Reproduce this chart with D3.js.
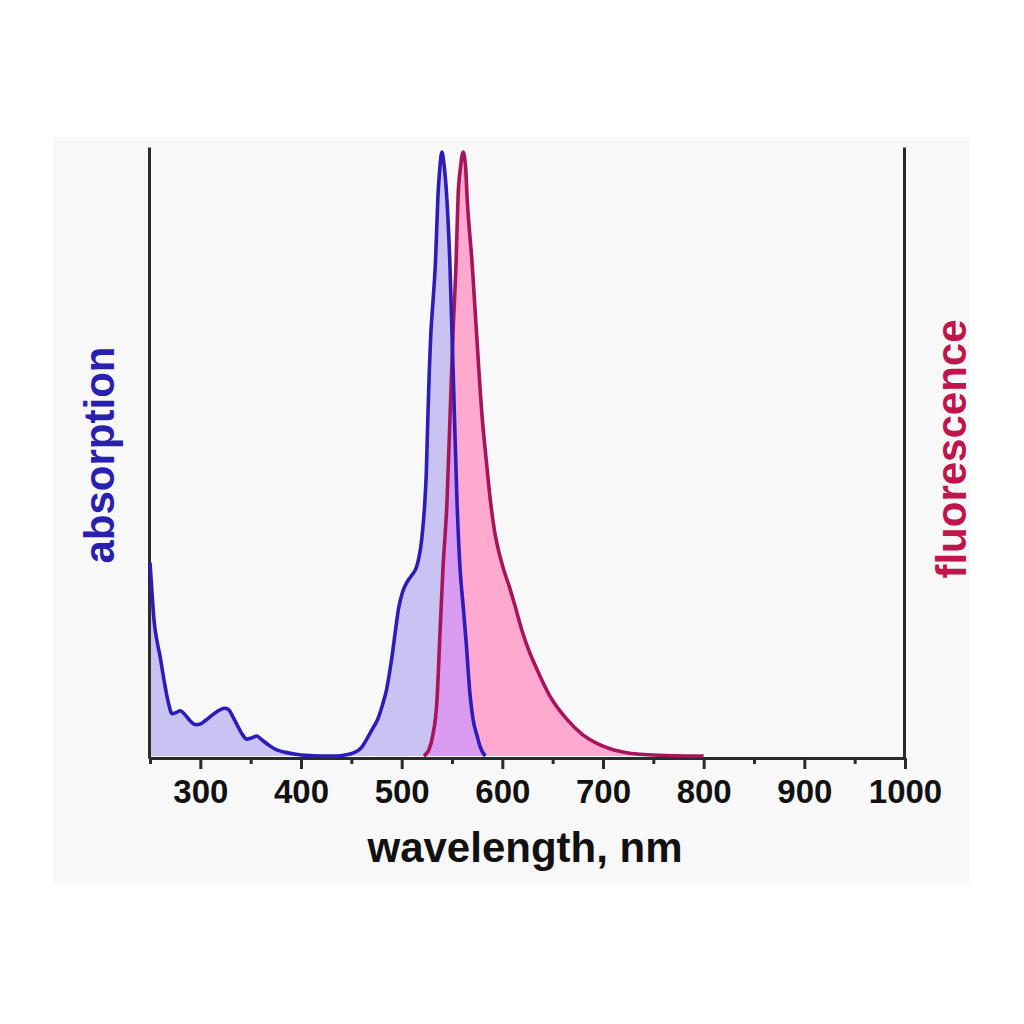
<!DOCTYPE html>
<html>
<head>
<meta charset="utf-8">
<script src="https://cdn.jsdelivr.net/npm/d3@7"></script>
<style>
  html, body { margin: 0; padding: 0; background: #ffffff; }
  svg { display: block; }
  text { font-family: "Liberation Sans", Arial, sans-serif; font-weight: bold; }
</style>
</head>
<body>
<svg id="chart" width="1024" height="1024"></svg>
<script>
// ---- data ----
const absWl  = [250, 252, 254, 257, 260, 264, 268, 272, 276, 280, 285, 290, 295, 300, 306, 312, 318, 324, 328, 332, 337, 342, 346, 351, 356, 361, 368, 376, 385, 395, 405, 420, 435, 445, 452, 460, 466, 471, 476, 481, 485, 490, 494, 497, 501, 505, 509, 515, 520, 523, 524.5, 526, 527.5, 529, 531, 533.5, 536, 538, 540, 542, 545, 548, 550, 552, 555, 558, 561, 564, 568, 571, 575, 578, 583];
const absVal = [0.32, 0.27, 0.225, 0.19, 0.165, 0.125, 0.09, 0.07, 0.072, 0.075, 0.068, 0.058, 0.052, 0.053, 0.06, 0.068, 0.075, 0.079, 0.077, 0.066, 0.05, 0.035, 0.028, 0.03, 0.033, 0.027, 0.018, 0.01, 0.006, 0.003, 0.001, 0, 0, 0.002, 0.005, 0.014, 0.03, 0.045, 0.06, 0.085, 0.11, 0.16, 0.21, 0.245, 0.272, 0.287, 0.297, 0.314, 0.36, 0.42, 0.47, 0.56, 0.64, 0.70, 0.75, 0.815, 0.925, 0.975, 1.0, 0.98, 0.92, 0.81, 0.70, 0.587, 0.42, 0.31, 0.25, 0.19, 0.1, 0.06, 0.033, 0.015, 0];

const fluWl  = [522, 524, 527, 531, 535, 538, 541, 545, 548, 551, 554, 556, 558.5, 561, 563.5, 565, 570, 574, 580, 584, 588, 592, 597, 602, 607, 612, 620, 627, 634, 647, 664, 680, 695, 707, 725, 745, 770, 800];
const fluVal = [0, 0.003, 0.01, 0.035, 0.09, 0.2, 0.31, 0.42, 0.56, 0.70, 0.815, 0.925, 0.975, 1.0, 0.975, 0.925, 0.815, 0.71, 0.56, 0.49, 0.425, 0.375, 0.335, 0.305, 0.28, 0.252, 0.205, 0.172, 0.145, 0.1, 0.061, 0.035, 0.02, 0.012, 0.005, 0.002, 0.0005, 0];

const xTicks = [300, 400, 500, 600, 700, 800, 900, 1000];
const xMinorTicks = [250, 350, 450, 550, 650, 750, 850, 950];
const xLabel = "wavelength, nm";
const yLeftLabel = "absorption";
const yRightLabel = "fluorescence";

// ---- build ----
const absData = absWl.map((w, i) => ({ w, v: absVal[i] }));
const fluData = fluWl.map((w, i) => ({ w, v: fluVal[i] }));

const svg = d3.select("#chart");

// panel background
svg.append("rect").attr("x", 53).attr("y", 137).attr("width", 917).attr("height", 747)
  .attr("fill", "#f8f8f8");

const x = d3.scaleLinear().domain([250, 1000]).range([150, 905]);
const y = d3.scaleLinear().domain([0, 1]).range([756, 152]);

const area = d3.area().x(d => x(d.w)).y0(y(0)).y1(d => y(d.v)).curve(d3.curveMonotoneX);
const line = d3.line().x(d => x(d.w)).y(d => y(d.v)).curve(d3.curveMonotoneX);

const defs = svg.append("defs");
defs.append("clipPath").attr("id", "fluClip")
  .append("path").attr("d", area(fluData));

svg.append("path").attr("d", area(absData)).attr("fill", "#c9c3f2");
svg.append("path").attr("d", area(fluData)).attr("fill", "#ffa9d1");
svg.append("path").attr("d", area(absData)).attr("fill", "#d99bf0").attr("clip-path", "url(#fluClip)");

// axes
const axisColor = "#2b2b2b";
const yAxisScale = d3.scaleLinear().domain([0, 1]).range([758, 147]);

const gMinor = svg.append("g").attr("transform", "translate(0,758)")
  .call(d3.axisBottom(x).tickValues(xMinorTicks).tickSize(6).tickSizeOuter(0).tickFormat(""));
const gMajor = svg.append("g").attr("transform", "translate(0,758)")
  .call(d3.axisBottom(x).tickValues(xTicks).tickSize(11).tickSizeOuter(0).tickFormat(d3.format("d")));
[gMinor, gMajor].forEach(g => {
  g.select(".domain").attr("stroke", axisColor).attr("stroke-width", 3);
  g.selectAll(".tick line").attr("stroke", axisColor).attr("stroke-width", 3);
});
gMajor.selectAll(".tick text").attr("fill", "#111").attr("font-size", 33)
  .attr("font-family", "'Liberation Sans', Arial, sans-serif").attr("font-weight", "bold")
  .attr("dy", "0.71em").attr("y", 22);

const gLeft = svg.append("g").attr("transform", "translate(149,0)")
  .call(d3.axisLeft(yAxisScale).tickValues([]).tickSizeOuter(0));
const gRight = svg.append("g").attr("transform", "translate(904,0)")
  .call(d3.axisRight(yAxisScale).tickValues([]).tickSizeOuter(0));
[gLeft, gRight].forEach(g => g.select(".domain").attr("stroke", axisColor).attr("stroke-width", 3));

// curves
svg.append("path").attr("d", line(fluData)).attr("fill", "none")
  .attr("stroke", "#a8145a").attr("stroke-width", 3.6).attr("stroke-linejoin", "round");
svg.append("path").attr("d", line(absData)).attr("fill", "none")
  .attr("stroke", "#2d1cb8").attr("stroke-width", 3.6).attr("stroke-linejoin", "round");

// labels
svg.append("text").attr("x", 525).attr("y", 862).attr("text-anchor", "middle")
  .attr("font-size", 42).attr("fill", "#111").text(xLabel);
svg.append("text").attr("transform", "translate(114,455) rotate(-90)").attr("text-anchor", "middle")
  .attr("font-size", 42).attr("fill", "#2a20b0").text(yLeftLabel);
svg.append("text").attr("transform", "translate(966,449) rotate(-90)").attr("text-anchor", "middle")
  .attr("font-size", 42).attr("fill", "#c0144c").text(yRightLabel);
</script>
</body>
</html>
